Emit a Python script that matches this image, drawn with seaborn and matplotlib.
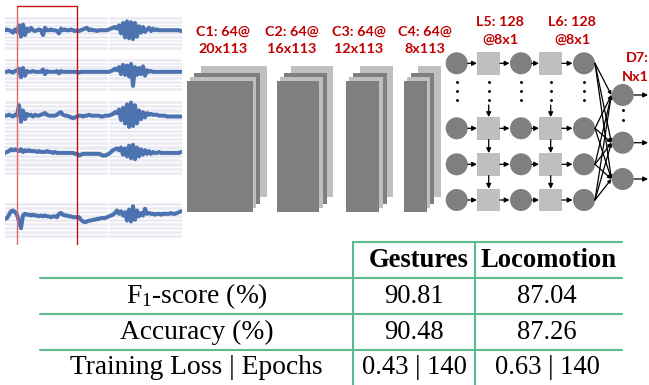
import numpy as np
import matplotlib
matplotlib.use("Agg")
import matplotlib.pyplot as plt
from matplotlib.patches import Rectangle, Circle
import seaborn as sns

# ---- sensor channels (one sample every 2 time steps, amplitude offsets) ----
trace_1 = [0, 1, 0, -1, -3, 1, -2, 6, -8, 7, -6, 2, -1, 3, 0, -1, 0, 1, 0, -6,
           3, 0, 0, 1, 0, 0, -1, -4, 2, 0, 1, 0, 0, 1, 0, -1, 0, -1, 0, 1,
           2, 3, 0, 1, 0, 0, -1, 0, 0, 0, 0, 0, 1, 2, 3, 4, 2, 6, -4, 9,
           -9, 11, -10, 10, -11, 9, -8, 5, -3, 4, -2, 1, 3, -1, 2, 0, 1, 0, 0, 0,
           0, 0, 0, 0, 0, 0, 0, 0, -1]
trace_2 = [0, 0, 1, 0, -1, 1, 2, 4, -7, 5, -5, 1, 0, 0, 1, 0, 0, 0, 0, 3,
           -3, 1, 0, 0, 0, 0, 1, -2, 1, 0, 0, 0, 0, 0, 0, 0, 0, -1, 0, 0,
           0, 0, 0, 0, 0, 0, 0, 0, 0, 0, 0, 0, 0, 1, 2, 4, 2, 6, -3, 9,
           -4, 8, -6, 10, -18, 6, -4, 5, -3, 7, -5, 2, 0, 1, 0, 0, 0, 0, 0, 0,
           0, 0, 0, 0, 0, 0, 0, 0, 0]
trace_3 = [0, 0, 1, 0, -1, 1, 0, 12, -7, 6, -4, 2, 0, 1, -1, 1, 0, 0, 1, 2,
           3, 1, 0, 0, 0, 0, 1, 3, 4, 1, 0, 0, -1, -2, -3, -2, -1, 0, 0, -1,
           0, 0, 1, 0, 0, 0, 0, 0, -1, -1, 0, 0, 0, 1, 2, 4, 3, 7, -5, 9,
           -9, 13, -13, 15, -12, 12, -9, 6, -4, 4, -2, 3, 1, 2, 1, 1, 1, 0, 0, 0,
           0, -1, -1, -1, -1, -1, -1, -1, -1]
trace_4 = [0, 1, 2, 4, 3, 4, 3, 2, 4, 1, 3, 2, 3, 2, 2, 2, 1, 2, 1, 1,
           1, 2, 1, 1, 0, 1, 0, 0, 0, 0, 0, 0, 0, 0, 0, -1, -1, -3, -2, -1,
           -1, -1, -1, -1, -1, -1, -1, -1, -2, -3, -3, -2, -1, 1, 3, 4, 5, 3, 6, -2,
           5, -4, 8, -6, 9, -7, 6, -4, 4, -2, 3, -1, 2, -1, 1, 0, 0, 1, 0, 0,
           0, 0, 0, 0, 0, 0, 0, 0, 1]
trace_5 = [-2, -1, 3, 7, 8, 6, 3, -5, -13, 2, 4, 3, 3, 2, 3, 2, 2, 1, 2, 1,
           2, 1, 1, 0, 1, 1, 0, 4, 5, 3, 2, 2, 1, 1, 0, 0, 0, 0, -3, -5,
           -6, -5, -4, -4, -3, -3, -2, -2, -1, -1, -1, 0, 1, 2, 3, 5, 8, 4, 7, 2,
           6, -4, 9, -5, 13, -3, 8, 1, 5, 2, 10, 4, 5, 4, 4, 3, 4, 4, 3, 4,
           4, 4, 4, 5, 4, 4, 5, 6, 7]
traces = [trace_1, trace_2, trace_3, trace_4, trace_5]

# ---- network description ----
conv_names = ["C1", "C2", "C3", "C4"]
conv_maps = [64, 64, 64, 64]
conv_rows = [20, 16, 12, 8]
conv_cols = 113
lstm_names = ["L5", "L6"]
lstm_units = [128, 128]
lstm_shape = "8x1"
dense_name = "D7"
dense_shape = "Nx1"

# ---- results table ----
metric_rows = ["F$_\\mathrm{1}$-score (%)", "Accuracy (%)", "Training Loss | Epochs"]
task_cols = ["Gestures", "Locomotion"]
f1_scores = [90.81, 87.04]
accuracies = [90.48, 87.26]
train_loss = [0.43, 0.63]
epochs = [140, 140]

W, H = 649, 385
sns.set_theme(style="darkgrid")
plt.rcParams["mathtext.fontset"] = "custom"
plt.rcParams["mathtext.rm"] = "Liberation Serif"
plt.rcParams["mathtext.it"] = "Liberation Serif:italic"

fig = plt.figure(figsize=(W / 100, H / 100), dpi=100)
fig.patch.set_facecolor("white")


def px_axes(x0, y0, x1, y1, **kw):
    return fig.add_axes([x0 / W, 1 - y1 / H, (x1 - x0) / W, (y1 - y0) / H], **kw)


# ---- signal panels ----
blue = sns.color_palette("deep")[0]
panel_boxes = [(16, 50, 33), (58, 91, 72), (100, 137, 118), (137, 175, 152), (202, 238, 220)]
for trace, (top, bot, mid) in zip(traces, panel_boxes):
    ax = px_axes(5, top, 182, bot)
    t = 5 + 2 * np.arange(len(trace))
    sns.lineplot(x=t, y=trace, ax=ax, color=blue, linewidth=2.9)
    ax.set_xlim(5, 182)
    ax.set_ylim(mid - bot, mid - top)
    ax.set_xticks([108])
    ax.set_yticks(np.arange(-24.6, 22, 4.7))
    ax.tick_params(length=0, labelbottom=False, labelleft=False)
    ax.grid(color="white", linewidth=1.0)
    ax.set_xlabel("")
    ax.set_ylabel("")
    for s in ax.spines.values():
        s.set_visible(False)

# ---- overlay in pixel coordinates ----
ov = fig.add_axes([0, 0, 1, 1], facecolor="none")
ov.set_zorder(10)
ov.set_xlim(0, W)
ov.set_ylim(H, 0)
ov.axis("off")

red = "#c81010"
ov.plot([16.7, 16.7], [6, 244], color="#e06868", lw=1.0)
ov.plot([16.7, 76.7, 76.7], [6, 6, 244], color=red, lw=1.0,
        solid_joinstyle="miter")

dark = "#7f7f7f"
light = "#bfbfbf"
label_font = dict(family="Lato", weight="bold", color="#c00000", fontsize=10.4,
                  ha="center", va="center")

# convolution stacks
conv_x = [186.7, 276.7, 345.7, 404.0]
conv_w = [66.0, 42.7, 33.7, 22.7]
conv_label_x = [223, 291.5, 359, 425]
stack = [(14.0, -15.0, light), (7.3, -7.7, dark), (3.3, -4.3, light), (0.0, 0.0, dark)]
for name, maps, rows, x0, w, lx in zip(conv_names, conv_maps, conv_rows,
                                       conv_x, conv_w, conv_label_x):
    for dx, dy, c in stack:
        ov.add_patch(Rectangle((x0 + dx, 81 + dy), w, 131, facecolor=c,
                               edgecolor="none"))
    ov.text(lx, 32, f"{name}: {maps}@", **label_font)
    ov.text(lx, 49, f"{rows}x{conv_cols}", **label_font)

# recurrent layers
col_circle = [456.7, 521.0, 584.0]
col_square = [488.7, 550.7]
row_y = [63.3, 128.3, 164.3, 200.0]
r = 11.0
sq = 22.5


def arrow(x0, y0, x1, y1, ms=7):
    ov.annotate("", xy=(x1, y1), xytext=(x0, y0),
                arrowprops=dict(arrowstyle="-|>", color="black", lw=0.9,
                                mutation_scale=ms, shrinkA=0, shrinkB=0))


for y in row_y:
    for cx in col_circle:
        ov.add_patch(Circle((cx, y), r, facecolor=dark, edgecolor="none"))
    for sx in col_square:
        ov.add_patch(Rectangle((sx - sq / 2, y - sq / 2), sq, sq,
                               facecolor=light, edgecolor="none"))
    xs = sorted(col_circle + col_square)
    for a, b in zip(xs[:-1], xs[1:]):
        ha = r if a in col_circle else sq / 2
        hb = r if b in col_circle else sq / 2
        arrow(a + ha, y, b - hb - 0.5, y)

for sx in col_square:
    arrow(sx, 105, sx, row_y[1] - sq / 2)
    arrow(sx, row_y[1] + sq / 2, sx, row_y[2] - sq / 2)
    arrow(sx, row_y[2] + sq / 2, sx, row_y[3] - sq / 2)

for cx in sorted(col_circle + col_square):
    ov.scatter([cx] * 3, [81.7, 90.5, 100], s=1.2, color="black", zorder=5)

for name, units, lx in zip(lstm_names, lstm_units, [500, 572.3]):
    ov.text(lx, 21.7, f"{name}: {units}", **label_font)
    ov.text(lx, 40, f"@{lstm_shape}", **label_font)

# dense output
dense_y = [95.0, 142.7, 179.0]
dense_x = 622.7
for y in row_y:
    for dy in dense_y:
        arrow(595, y, dense_x - r - 0.3, dy, ms=5)
for dy in dense_y:
    ov.add_patch(Circle((dense_x, dy), r, facecolor=dark, edgecolor="none",
                        zorder=4))
    arrow(dense_x + r, dy, 648, dy)
ov.scatter([dense_x] * 2, [110, 119.5], s=1.2, color="black", zorder=5)
ov.text(649, 58.3, f"{dense_name}:", **{**label_font, "ha": "right"})
ov.text(649, 76.7, dense_shape, **{**label_font, "ha": "right"})

# ---- results table ----
green = "#5cba8e"
tlw = 1.5
ov.plot([353, 622], [242.3, 242.3], color=green, lw=tlw)
for y in [277.7, 314.0, 350.0]:
    ov.plot([40, 622], [y, y], color=green, lw=tlw)
for x in [353, 475]:
    ov.plot([x, x], [242.3, 386], color=green, lw=tlw)

serif = dict(family="Liberation Serif", color="black", ha="center", va="baseline")
for lx, name in zip([419, 548.3], task_cols):
    ov.text(lx, 266.7, name, weight="bold", fontsize=19.2, **serif)

cells = [[f"{v:.2f}" for v in f1_scores],
         [f"{v:.2f}" for v in accuracies],
         [f"{l:.2f} | {e}" for l, e in zip(train_loss, epochs)]]
for name, row, by in zip(metric_rows, cells, [303.3, 339.0, 374.3]):
    ov.text(196.5, by, name, fontsize=19.8, **serif)
    for cx, val in zip([414, 547], row):
        ov.text(cx, by, val, fontsize=19.2, **serif)

fig.savefig("out.png", dpi=100, facecolor="white")
